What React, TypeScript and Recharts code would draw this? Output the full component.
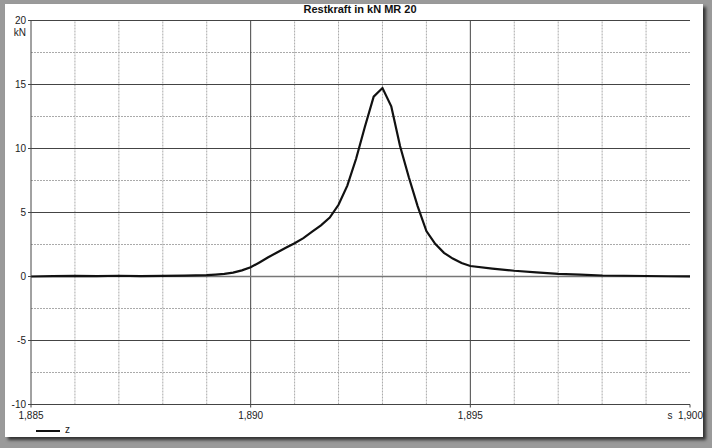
import { Line, LineChart, ReferenceLine, XAxis, YAxis } from "recharts";

// Restkraft curve (x in s, y in kN).
const times = [
  1.885, 1.8855, 1.886, 1.8865, 1.887, 1.8875, 1.888, 1.8885, 1.889, 1.8892, 1.8894, 1.8896, 1.8898,
  1.89, 1.8902, 1.8904, 1.8906, 1.8908, 1.891, 1.8912, 1.8914, 1.8916, 1.8918, 1.892, 1.8922, 1.8924,
  1.8926, 1.8928, 1.893, 1.8932, 1.8934, 1.8936, 1.8938, 1.894, 1.8942, 1.8944, 1.8946, 1.8948, 1.895,
  1.8955, 1.896, 1.8965, 1.897, 1.8975, 1.898, 1.8985, 1.899, 1.8995, 1.9,
];
const force = [
  0.0, 0.03, 0.05, 0.03, 0.06, 0.03, 0.05, 0.07, 0.1, 0.15, 0.21, 0.3, 0.48,
  0.72, 1.1, 1.5, 1.88, 2.25, 2.6, 3.0, 3.5, 4.0, 4.6, 5.6, 7.1, 9.2,
  11.7, 14.05, 14.72, 13.3, 10.2, 7.75, 5.5, 3.55, 2.55, 1.85, 1.4, 1.05, 0.82,
  0.62, 0.45, 0.32, 0.2, 0.14, 0.08, 0.06, 0.04, 0.02, 0.01,
];

const xMajor = [1.885, 1.89, 1.895, 1.9];
const xMinor = [1.886, 1.887, 1.888, 1.889, 1.891, 1.892, 1.893, 1.894, 1.896, 1.897, 1.898, 1.899];
const yMajor = [-10, -5, 0, 5, 10, 15, 20];
const yMinor = [-7.5, -2.5, 2.5, 7.5, 12.5, 17.5];

const data = times.map((t, i) => ({ t, z: force[i] }));

const FONT = "'Liberation Sans', Arial, sans-serif";
const fmt = (v: number) => v.toFixed(3).replace(".", ",");

function XTick({ x, y, payload }: any) {
  const last = payload.value >= 1.9;
  return (
    <text
      x={last ? x + 13 : x}
      y={y}
      dy="0.71em"
      textAnchor={last ? "end" : "middle"}
      fontSize={10}
      fontFamily={FONT}
      fill="#222"
    >
      {last ? "s\u00a0\u00a0" + fmt(payload.value) : fmt(payload.value)}
    </text>
  );
}

function YTick({ x, y, payload }: any) {
  return (
    <g>
      <text x={x} y={y} dy={3.5} textAnchor="end" fontSize={10} fontFamily={FONT} fill="#222">
        {payload.value}
      </text>
      {payload.value === 20 && (
        <text x={x} y={y + 12} dy={3.5} textAnchor="end" fontSize={10} fontFamily={FONT} fill="#222">
          kN
        </text>
      )}
    </g>
  );
}

export default function App() {
  return (
    <div style={{ position: "fixed", left: 0, top: 0, width: 712, height: 448, background: "#9a9a9a", overflow: "hidden" }}>
      <div
        style={{
          position: "absolute",
          left: 5,
          top: 4,
          width: 698,
          height: 433,
          background: "#fff",
          boxShadow: "3px 3px 3px #333",
        }}
      />
      <div
        style={{
          position: "absolute",
          left: 0,
          top: 3,
          width: 720,
          textAlign: "center",
          fontFamily: FONT,
          fontWeight: "bold",
          fontSize: 11,
          color: "#111",
        }}
      >
        Restkraft in kN MR 20
      </div>
      <div style={{ position: "absolute", left: 0, top: 0 }}>
        <LineChart width={712} height={448} data={data} margin={{ top: 20.5, right: 22, left: 0, bottom: 0 }}>
          {xMinor.map((v) => (
            <ReferenceLine key={"xm" + v} x={v} stroke="#aaa" strokeDasharray="2 1" />
          ))}
          {yMinor.map((v) => (
            <ReferenceLine key={"ym" + v} y={v} stroke="#aaa" strokeDasharray="2 1" />
          ))}
          {xMajor.slice(1, 3).map((v) => (
            <ReferenceLine key={"xM" + v} x={v} stroke="#444" />
          ))}
          {yMajor.map((v) => (
            <ReferenceLine
              key={"yM" + v}
              y={v}
              stroke={v === 0 ? "#777" : "#444"}
              strokeWidth={v === 0 ? 1.6 : 1}
            />
          ))}
          <XAxis
            dataKey="t"
            type="number"
            domain={[1.885, 1.9]}
            ticks={xMajor}
            height={43.5}
            tickSize={3}
            tickMargin={4}
            tick={<XTick />}
            axisLine={{ stroke: "#444" }}
            tickLine={{ stroke: "#444" }}
          />
          <YAxis
            type="number"
            domain={[-10, 20]}
            ticks={yMajor}
            width={31}
            tickSize={3}
            tickMargin={2}
            tick={<YTick />}
            axisLine={{ stroke: "#444" }}
            tickLine={{ stroke: "#444" }}
          />
          <Line
            dataKey="z"
            type="linear"
            stroke="#111"
            strokeWidth={2.2}
            dot={false}
            isAnimationActive={false}
          />
        </LineChart>
      </div>
      <div style={{ position: "absolute", left: 36, top: 429.5, width: 24, height: 2, background: "#111" }} />
      <div style={{ position: "absolute", left: 65, top: 424, fontFamily: FONT, fontSize: 10, color: "#222" }}>z</div>
    </div>
  );
}
